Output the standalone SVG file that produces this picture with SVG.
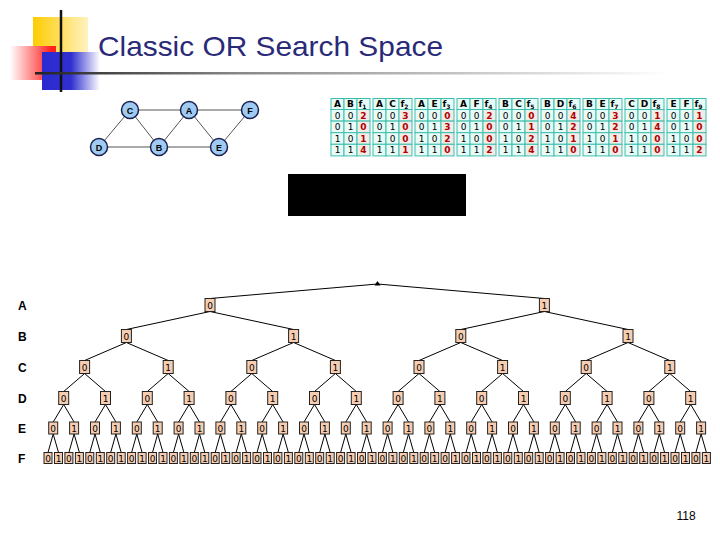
<svg xmlns="http://www.w3.org/2000/svg" xmlns:xlink="http://www.w3.org/1999/xlink" width="720" height="540" viewBox="0 0 720 540">
<style>
.t{font-family:"DejaVu Sans",sans-serif;font-size:9px;text-anchor:middle;fill:#000}
.h{font-weight:bold}
.v{font-weight:bold;fill:#b00000}
.cell{fill:#e8fbf6;stroke:#3cbfae;stroke-width:1}
.vc{fill:#f3ece6;stroke:#3cbfae;stroke-width:1}
.bx{fill:#f6cdb0;stroke:#222;stroke-width:1}
.bt{font-family:"DejaVu Sans",sans-serif;font-size:9px;text-anchor:middle;fill:#000}
.lbl{font-family:"Liberation Sans",sans-serif;font-size:12px;font-weight:bold;fill:#000}
.gn{fill:#9fcaf2;stroke:#1a2050;stroke-width:1.5}
.gt{font-family:"Liberation Sans",sans-serif;font-size:9px;font-weight:bold;text-anchor:middle;fill:#000}
</style>
<defs>
<linearGradient id="gy" x1="0" y1="0" x2="1" y2="0"><stop offset="0" stop-color="#ffcc00"/><stop offset="1" stop-color="#fff2c0"/></linearGradient>
<linearGradient id="gr" x1="0" y1="0" x2="1" y2="0"><stop offset="0" stop-color="#ffffff"/><stop offset="0.9" stop-color="#ff2020"/></linearGradient>
<linearGradient id="gb" x1="0" y1="0" x2="1" y2="0"><stop offset="0" stop-color="#2a2ad0"/><stop offset="0.5" stop-color="#3030d0"/><stop offset="1" stop-color="#ffffff"/></linearGradient>
<linearGradient id="gl" x1="0" y1="0" x2="1" y2="0"><stop offset="0" stop-color="#222"/><stop offset="0.32" stop-color="#888"/><stop offset="1" stop-color="#fff"/></linearGradient>
<g id="a0"><rect class="bx" x="-5" y="-6.5" width="10" height="13"/><text class="bt" y="3.5">0</text></g>
<g id="a1"><rect class="bx" x="-5" y="-6.5" width="10" height="13"/><text class="bt" y="3.5">1</text></g>
<g id="e0"><rect class="bx" x="-4.5" y="-6" width="9" height="12"/><text class="bt" y="3.5">0</text></g>
<g id="e1"><rect class="bx" x="-4.5" y="-6" width="9" height="12"/><text class="bt" y="3.5">1</text></g>
<g id="f0"><rect class="bx" x="-4" y="-5.5" width="8" height="11"/><text class="bt" y="3.5">0</text></g>
<g id="f1"><rect class="bx" x="-4" y="-5.5" width="8" height="11"/><text class="bt" y="3.5">1</text></g>
<g id="grid">
<rect class="cell" x="0" y="0" width="13" height="11"/><rect class="cell" x="13" y="0" width="13" height="11"/><rect class="cell" x="26" y="0" width="13" height="11"/>
<rect class="cell" x="0" y="11" width="13" height="11.6"/><rect class="cell" x="13" y="11" width="13" height="11.6"/><rect class="vc" x="26" y="11" width="13" height="11.6"/>
<rect class="cell" x="0" y="22.6" width="13" height="11.6"/><rect class="cell" x="13" y="22.6" width="13" height="11.6"/><rect class="vc" x="26" y="22.6" width="13" height="11.6"/>
<rect class="cell" x="0" y="34.2" width="13" height="11.6"/><rect class="cell" x="13" y="34.2" width="13" height="11.6"/><rect class="vc" x="26" y="34.2" width="13" height="11.6"/>
<rect class="cell" x="0" y="45.8" width="13" height="11.6"/><rect class="cell" x="13" y="45.8" width="13" height="11.6"/><rect class="vc" x="26" y="45.8" width="13" height="11.6"/>
<text class="t" x="6.5" y="20">0</text><text class="t" x="19.5" y="20">0</text>
<text class="t" x="6.5" y="31.6">0</text><text class="t" x="19.5" y="31.6">1</text>
<text class="t" x="6.5" y="43.2">1</text><text class="t" x="19.5" y="43.2">0</text>
<text class="t" x="6.5" y="54.8">1</text><text class="t" x="19.5" y="54.8">1</text>
</g>
</defs>
<rect width="720" height="540" fill="#fff"/>
<g id="logo">
<rect x="33" y="17" width="55" height="36" fill="url(#gy)"/>
<rect x="10" y="46" width="46" height="34" fill="url(#gr)"/>
<rect x="42" y="52" width="58" height="38" fill="url(#gb)"/>
<line x1="61" y1="10" x2="61" y2="92" stroke="#111" stroke-width="2.5"/>
<rect x="35" y="72" width="635" height="2.5" fill="url(#gl)"/>
</g>
<text x="98" y="56" font-family="Liberation Sans, sans-serif" font-size="28" fill="#2a2a78" textLength="345" lengthAdjust="spacingAndGlyphs">Classic OR Search Space</text>
<g id="graph">
<g stroke="#555" stroke-width="1">
<line x1="130" y1="110" x2="189" y2="110"/><line x1="189" y1="110" x2="250" y2="110"/>
<line x1="130" y1="110" x2="99" y2="147"/><line x1="130" y1="110" x2="159" y2="147"/>
<line x1="189" y1="110" x2="159" y2="147"/><line x1="189" y1="110" x2="219" y2="147"/>
<line x1="250" y1="110" x2="219" y2="147"/><line x1="99" y1="147" x2="159" y2="147"/>
<line x1="159" y1="147" x2="219" y2="147"/>
</g>
<g id="nC"><circle class="gn" cx="130" cy="110" r="8.5"/><text class="gt" x="130" y="113.5">C</text></g>
<g id="nA"><circle class="gn" cx="189" cy="110" r="8.5"/><text class="gt" x="189" y="113.5">A</text></g>
<g id="nF"><circle class="gn" cx="250" cy="110" r="8.5"/><text class="gt" x="250" y="113.5">F</text></g>
<g id="nD"><circle class="gn" cx="99" cy="147" r="8.5"/><text class="gt" x="99" y="150.5">D</text></g>
<g id="nB"><circle class="gn" cx="159" cy="147" r="8.5"/><text class="gt" x="159" y="150.5">B</text></g>
<g id="nE"><circle class="gn" cx="219" cy="147" r="8.5"/><text class="gt" x="219" y="150.5">E</text></g>
</g>
<g id="tables">
<g id="t1" transform="translate(331,98.5)"><use href="#grid"/><text class="t h" x="6.5" y="8.5">A</text><text class="t h" x="19.5" y="8.5">B</text><text class="t h" x="31.5" y="8.5">f<tspan font-size="6" dy="2">1</tspan></text><text class="t v" x="32.5" y="20">2</text><text class="t v" x="32.5" y="31.6">0</text><text class="t v" x="32.5" y="43.2">1</text><text class="t v" x="32.5" y="54.8">4</text></g>
<g id="t2" transform="translate(373,98.5)"><use href="#grid"/><text class="t h" x="6.5" y="8.5">A</text><text class="t h" x="19.5" y="8.5">C</text><text class="t h" x="31.5" y="8.5">f<tspan font-size="6" dy="2">2</tspan></text><text class="t v" x="32.5" y="20">3</text><text class="t v" x="32.5" y="31.6">0</text><text class="t v" x="32.5" y="43.2">0</text><text class="t v" x="32.5" y="54.8">1</text></g>
<g id="t3" transform="translate(415,98.5)"><use href="#grid"/><text class="t h" x="6.5" y="8.5">A</text><text class="t h" x="19.5" y="8.5">E</text><text class="t h" x="31.5" y="8.5">f<tspan font-size="6" dy="2">3</tspan></text><text class="t v" x="32.5" y="20">0</text><text class="t v" x="32.5" y="31.6">3</text><text class="t v" x="32.5" y="43.2">2</text><text class="t v" x="32.5" y="54.8">0</text></g>
<g id="t4" transform="translate(457,98.5)"><use href="#grid"/><text class="t h" x="6.5" y="8.5">A</text><text class="t h" x="19.5" y="8.5">F</text><text class="t h" x="31.5" y="8.5">f<tspan font-size="6" dy="2">4</tspan></text><text class="t v" x="32.5" y="20">2</text><text class="t v" x="32.5" y="31.6">0</text><text class="t v" x="32.5" y="43.2">0</text><text class="t v" x="32.5" y="54.8">2</text></g>
<g id="t5" transform="translate(499,98.5)"><use href="#grid"/><text class="t h" x="6.5" y="8.5">B</text><text class="t h" x="19.5" y="8.5">C</text><text class="t h" x="31.5" y="8.5">f<tspan font-size="6" dy="2">5</tspan></text><text class="t v" x="32.5" y="20">0</text><text class="t v" x="32.5" y="31.6">1</text><text class="t v" x="32.5" y="43.2">2</text><text class="t v" x="32.5" y="54.8">4</text></g>
<g id="t6" transform="translate(541,98.5)"><use href="#grid"/><text class="t h" x="6.5" y="8.5">B</text><text class="t h" x="19.5" y="8.5">D</text><text class="t h" x="31.5" y="8.5">f<tspan font-size="6" dy="2">6</tspan></text><text class="t v" x="32.5" y="20">4</text><text class="t v" x="32.5" y="31.6">2</text><text class="t v" x="32.5" y="43.2">1</text><text class="t v" x="32.5" y="54.8">0</text></g>
<g id="t7" transform="translate(583,98.5)"><use href="#grid"/><text class="t h" x="6.5" y="8.5">B</text><text class="t h" x="19.5" y="8.5">E</text><text class="t h" x="31.5" y="8.5">f<tspan font-size="6" dy="2">7</tspan></text><text class="t v" x="32.5" y="20">3</text><text class="t v" x="32.5" y="31.6">2</text><text class="t v" x="32.5" y="43.2">1</text><text class="t v" x="32.5" y="54.8">0</text></g>
<g id="t8" transform="translate(625,98.5)"><use href="#grid"/><text class="t h" x="6.5" y="8.5">C</text><text class="t h" x="19.5" y="8.5">D</text><text class="t h" x="31.5" y="8.5">f<tspan font-size="6" dy="2">8</tspan></text><text class="t v" x="32.5" y="20">1</text><text class="t v" x="32.5" y="31.6">4</text><text class="t v" x="32.5" y="43.2">0</text><text class="t v" x="32.5" y="54.8">0</text></g>
<g id="t9" transform="translate(667,98.5)"><use href="#grid"/><text class="t h" x="6.5" y="8.5">E</text><text class="t h" x="19.5" y="8.5">F</text><text class="t h" x="31.5" y="8.5">f<tspan font-size="6" dy="2">9</tspan></text><text class="t v" x="32.5" y="20">1</text><text class="t v" x="32.5" y="31.6">0</text><text class="t v" x="32.5" y="43.2">0</text><text class="t v" x="32.5" y="54.8">2</text></g>
</g>
<rect id="blackbox" x="288" y="174" width="178" height="42" fill="#000"/>
<g id="levels">
<text class="lbl" x="18" y="310">A</text><text class="lbl" x="18" y="341">B</text><text class="lbl" x="18" y="372">C</text><text class="lbl" x="18" y="403">D</text><text class="lbl" x="18" y="433">E</text><text class="lbl" x="18" y="463">F</text>
</g>
<g id="connectors" stroke="#000" stroke-width="1" fill="none">
<path d="M377.5 284L210 298.5M377.5 284L544.4 298.5"/>
<path d="M210 311.5L126.4 329.5M210 311.5L293.6 329.5M544.4 311.5L460.8 329.5M544.4 311.5L628 329.5"/>
<path d="M126.4 342.5L84.6 360.5M126.4 342.5L168.2 360.5M293.6 342.5L251.8 360.5M293.6 342.5L335.4 360.5M460.8 342.5L419 360.5M460.8 342.5L502.6 360.5M628 342.5L586.2 360.5M628 342.5L669.8 360.5"/>
<path d="M84.6 373.5L63.7 391.5M84.6 373.5L105.5 391.5M168.2 373.5L147.3 391.5M168.2 373.5L189.1 391.5M251.8 373.5L230.9 391.5M251.8 373.5L272.7 391.5M335.4 373.5L314.5 391.5M335.4 373.5L356.3 391.5M419 373.5L398.1 391.5M419 373.5L439.9 391.5M502.6 373.5L481.7 391.5M502.6 373.5L523.5 391.5M586.2 373.5L565.3 391.5M586.2 373.5L607.1 391.5M669.8 373.5L648.9 391.5M669.8 373.5L690.7 391.5"/>
<path d="M63.7 404.5L53.2 422M63.7 404.5L74.1 422M105.5 404.5L95 422M105.5 404.5L115.9 422M147.3 404.5L136.8 422M147.3 404.5L157.7 422M189.1 404.5L178.6 422M189.1 404.5L199.5 422M230.9 404.5L220.4 422M230.9 404.5L241.3 422M272.7 404.5L262.2 422M272.7 404.5L283.1 422M314.5 404.5L304 422M314.5 404.5L324.9 422M356.3 404.5L345.8 422M356.3 404.5L366.7 422M398.1 404.5L387.6 422M398.1 404.5L408.5 422M439.9 404.5L429.4 422M439.9 404.5L450.3 422M481.7 404.5L471.2 422M481.7 404.5L492.1 422M523.5 404.5L513 422M523.5 404.5L533.9 422M565.3 404.5L554.8 422M565.3 404.5L575.7 422M607.1 404.5L596.6 422M607.1 404.5L617.5 422M648.9 404.5L638.4 422M648.9 404.5L659.3 422M690.7 404.5L680.2 422M690.7 404.5L701.1 422"/>
<path d="M53.2 434L48 452.5M53.2 434L58.5 452.5M74.1 434L68.9 452.5M74.1 434L79.4 452.5M95 434L89.8 452.5M95 434L100.3 452.5M115.9 434L110.7 452.5M115.9 434L121.2 452.5M136.8 434L131.6 452.5M136.8 434L142.1 452.5M157.7 434L152.5 452.5M157.7 434L163 452.5M178.6 434L173.4 452.5M178.6 434L183.9 452.5M199.5 434L194.3 452.5M199.5 434L204.8 452.5M220.4 434L215.2 452.5M220.4 434L225.7 452.5M241.3 434L236.1 452.5M241.3 434L246.6 452.5M262.2 434L257 452.5M262.2 434L267.5 452.5M283.1 434L277.9 452.5M283.1 434L288.4 452.5M304 434L298.8 452.5M304 434L309.3 452.5M324.9 434L319.7 452.5M324.9 434L330.2 452.5M345.8 434L340.6 452.5M345.8 434L351.1 452.5M366.7 434L361.5 452.5M366.7 434L372 452.5M387.6 434L382.4 452.5M387.6 434L392.9 452.5M408.5 434L403.3 452.5M408.5 434L413.8 452.5M429.4 434L424.2 452.5M429.4 434L434.7 452.5M450.3 434L445.1 452.5M450.3 434L455.6 452.5M471.2 434L466 452.5M471.2 434L476.5 452.5M492.1 434L486.9 452.5M492.1 434L497.4 452.5M513 434L507.8 452.5M513 434L518.3 452.5M533.9 434L528.7 452.5M533.9 434L539.2 452.5M554.8 434L549.6 452.5M554.8 434L560.1 452.5M575.7 434L570.5 452.5M575.7 434L581 452.5M596.6 434L591.4 452.5M596.6 434L601.9 452.5M617.5 434L612.3 452.5M617.5 434L622.8 452.5M638.4 434L633.2 452.5M638.4 434L643.7 452.5M659.3 434L654.1 452.5M659.3 434L664.6 452.5M680.2 434L675 452.5M680.2 434L685.5 452.5M701.1 434L695.9 452.5M701.1 434L706.4 452.5"/>
</g>
<path id="root" d="M377.5 281L374.5 285.5L380.5 285.5Z" fill="#000"/>
<g id="nodesA"><use href="#a0" x="210" y="305"/><use href="#a1" x="544.4" y="305"/></g>
<g id="nodesB"><use href="#a0" x="126.4" y="336"/><use href="#a1" x="293.6" y="336"/><use href="#a0" x="460.8" y="336"/><use href="#a1" x="628" y="336"/></g>
<g id="nodesC"><use href="#a0" x="84.6" y="367"/><use href="#a1" x="168.2" y="367"/><use href="#a0" x="251.8" y="367"/><use href="#a1" x="335.4" y="367"/><use href="#a0" x="419" y="367"/><use href="#a1" x="502.6" y="367"/><use href="#a0" x="586.2" y="367"/><use href="#a1" x="669.8" y="367"/></g>
<g id="nodesD"><use href="#a0" x="63.7" y="398"/><use href="#a1" x="105.5" y="398"/><use href="#a0" x="147.3" y="398"/><use href="#a1" x="189.1" y="398"/><use href="#a0" x="230.9" y="398"/><use href="#a1" x="272.7" y="398"/><use href="#a0" x="314.5" y="398"/><use href="#a1" x="356.3" y="398"/><use href="#a0" x="398.1" y="398"/><use href="#a1" x="439.9" y="398"/><use href="#a0" x="481.7" y="398"/><use href="#a1" x="523.5" y="398"/><use href="#a0" x="565.3" y="398"/><use href="#a1" x="607.1" y="398"/><use href="#a0" x="648.9" y="398"/><use href="#a1" x="690.7" y="398"/></g>
<g id="nodesE"><use href="#e0" x="53.2" y="428"/><use href="#e1" x="74.1" y="428"/><use href="#e0" x="95" y="428"/><use href="#e1" x="115.9" y="428"/><use href="#e0" x="136.8" y="428"/><use href="#e1" x="157.7" y="428"/><use href="#e0" x="178.6" y="428"/><use href="#e1" x="199.5" y="428"/><use href="#e0" x="220.4" y="428"/><use href="#e1" x="241.3" y="428"/><use href="#e0" x="262.2" y="428"/><use href="#e1" x="283.1" y="428"/><use href="#e0" x="304" y="428"/><use href="#e1" x="324.9" y="428"/><use href="#e0" x="345.8" y="428"/><use href="#e1" x="366.7" y="428"/><use href="#e0" x="387.6" y="428"/><use href="#e1" x="408.5" y="428"/><use href="#e0" x="429.4" y="428"/><use href="#e1" x="450.3" y="428"/><use href="#e0" x="471.2" y="428"/><use href="#e1" x="492.1" y="428"/><use href="#e0" x="513" y="428"/><use href="#e1" x="533.9" y="428"/><use href="#e0" x="554.8" y="428"/><use href="#e1" x="575.7" y="428"/><use href="#e0" x="596.6" y="428"/><use href="#e1" x="617.5" y="428"/><use href="#e0" x="638.4" y="428"/><use href="#e1" x="659.3" y="428"/><use href="#e0" x="680.2" y="428"/><use href="#e1" x="701.1" y="428"/></g>
<g id="nodesF"><use href="#f0" x="48" y="458"/><use href="#f1" x="58.5" y="458"/><use href="#f0" x="68.9" y="458"/><use href="#f1" x="79.4" y="458"/><use href="#f0" x="89.8" y="458"/><use href="#f1" x="100.3" y="458"/><use href="#f0" x="110.7" y="458"/><use href="#f1" x="121.2" y="458"/><use href="#f0" x="131.6" y="458"/><use href="#f1" x="142.1" y="458"/><use href="#f0" x="152.5" y="458"/><use href="#f1" x="163" y="458"/><use href="#f0" x="173.4" y="458"/><use href="#f1" x="183.9" y="458"/><use href="#f0" x="194.3" y="458"/><use href="#f1" x="204.8" y="458"/><use href="#f0" x="215.2" y="458"/><use href="#f1" x="225.7" y="458"/><use href="#f0" x="236.1" y="458"/><use href="#f1" x="246.6" y="458"/><use href="#f0" x="257" y="458"/><use href="#f1" x="267.5" y="458"/><use href="#f0" x="277.9" y="458"/><use href="#f1" x="288.4" y="458"/><use href="#f0" x="298.8" y="458"/><use href="#f1" x="309.3" y="458"/><use href="#f0" x="319.7" y="458"/><use href="#f1" x="330.2" y="458"/><use href="#f0" x="340.6" y="458"/><use href="#f1" x="351.1" y="458"/><use href="#f0" x="361.5" y="458"/><use href="#f1" x="372" y="458"/><use href="#f0" x="382.4" y="458"/><use href="#f1" x="392.9" y="458"/><use href="#f0" x="403.3" y="458"/><use href="#f1" x="413.8" y="458"/><use href="#f0" x="424.2" y="458"/><use href="#f1" x="434.7" y="458"/><use href="#f0" x="445.1" y="458"/><use href="#f1" x="455.6" y="458"/><use href="#f0" x="466" y="458"/><use href="#f1" x="476.5" y="458"/><use href="#f0" x="486.9" y="458"/><use href="#f1" x="497.4" y="458"/><use href="#f0" x="507.8" y="458"/><use href="#f1" x="518.3" y="458"/><use href="#f0" x="528.7" y="458"/><use href="#f1" x="539.2" y="458"/><use href="#f0" x="549.6" y="458"/><use href="#f1" x="560.1" y="458"/><use href="#f0" x="570.5" y="458"/><use href="#f1" x="581" y="458"/><use href="#f0" x="591.4" y="458"/><use href="#f1" x="601.9" y="458"/><use href="#f0" x="612.3" y="458"/><use href="#f1" x="622.8" y="458"/><use href="#f0" x="633.2" y="458"/><use href="#f1" x="643.7" y="458"/><use href="#f0" x="654.1" y="458"/><use href="#f1" x="664.6" y="458"/><use href="#f0" x="675" y="458"/><use href="#f1" x="685.5" y="458"/><use href="#f0" x="695.9" y="458"/><use href="#f1" x="706.4" y="458"/></g>
<text x="686" y="520" font-family="Liberation Sans, sans-serif" font-size="12" text-anchor="middle" fill="#000">118</text>
</svg>
